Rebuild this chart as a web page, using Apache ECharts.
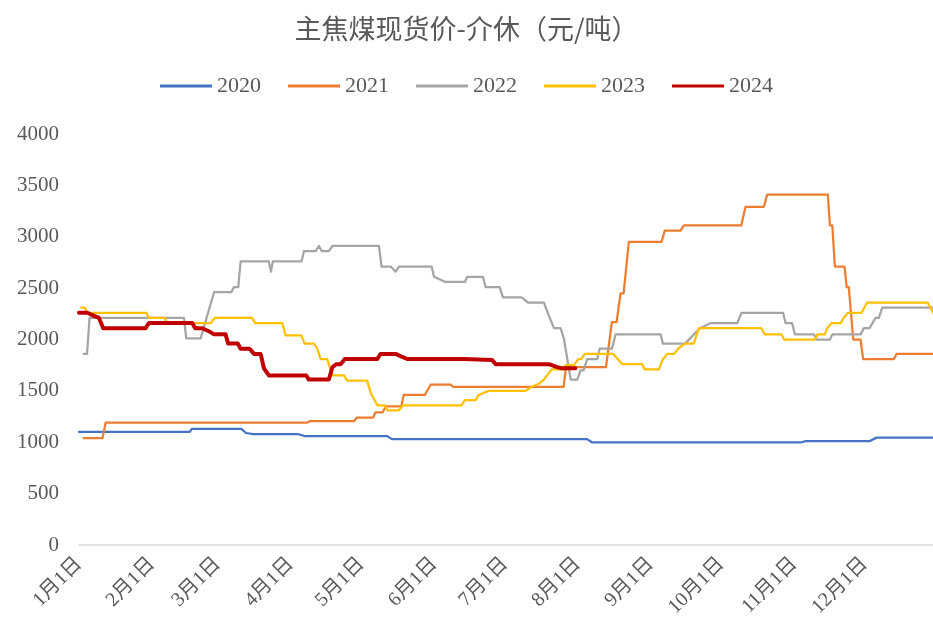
<!DOCTYPE html>
<html>
<head>
<meta charset="utf-8">
<title>主焦煤现货价-介休</title>
<script src="https://cdn.jsdelivr.net/npm/echarts@6.0.0/dist/echarts.min.js"></script>
<style>
  html, body { margin: 0; padding: 0; background: #fff; }
  #main { width: 933px; height: 633px; }
</style>
</head>
<body>
<div id="main"></div>
<script>
// x = day of year (0 = 1月1日), y = 元/吨
const monthStarts = [0, 31, 59, 90, 120, 151, 181, 212, 243, 273, 304, 334];
const monthLabels = ['1月1日', '2月1日', '3月1日', '4月1日', '5月1日', '6月1日',
  '7月1日', '8月1日', '9月1日', '10月1日', '11月1日', '12月1日'];
const yearNames = ['2020', '2021', '2022', '2023', '2024'];
const yearColors = ['#4472C4', '#ED7D31', '#A5A5A5', '#FFC000', '#C00000'];

const data2020 = [[0,1100],[47,1100],[48,1130],[69,1130],[71,1090],[74,1080],[93,1080],[96,1060],
  [131,1060],[133,1030],[216,1030],[218,1000],[307,1000],[309,1010],[336,1010],[339,1045],[363,1045]];

const data2021 = [[2,1040],[10,1040],[11.3,1190],[97,1190],[98,1205],[117,1205],[118,1240],[125,1240],
  [126,1290],[129,1290],[130.5,1350],[137,1350],[138,1460],[147,1460],[149.5,1560],[158,1560],[159,1540],
  [206,1540],[207,1730],[224,1730],[226.5,2170],[228.5,2170],[230.2,2450],[231.5,2450],[233.7,2950],
  [247.6,2950],[249,3060],[255.7,3060],[257.1,3110],[281.5,3110],[283.3,3290],[291.1,3290],[292.5,3410],
  [318.3,3410],[319.2,3110],[320.2,3110],[321.3,2710],[325.4,2710],[326.3,2510],[327.2,2510],[329.1,2000],
  [332.2,2000],[333.3,1810],[346.4,1810],[347.5,1860],[363,1860]];

const data2022 = [[2,1860],[3.4,1860],[4.5,2210],[44.6,2210],[45.6,2010],[51.7,2010],[57.4,2460],[64.7,2460],
  [65.9,2510],[67.7,2510],[68.7,2760],[80.7,2760],[81.6,2660],[82.4,2760],[94.6,2760],[95.6,2860],
  [100.6,2860],[102,2910],[103.2,2860],[106.2,2860],[107.7,2910],[127.5,2910],[128.6,2710],[132.5,2710],
  [134.6,2660],[136,2710],[149.9,2710],[150.9,2610],[155.8,2560],[164,2560],[165,2610],[171.7,2610],
  [172.8,2510],[178.8,2510],[180.2,2410],[188.1,2410],[190.9,2360],[197.6,2360],[199.4,2250],[201.9,2110],
  [204.7,2110],[206.1,2010],[209,1610],[211.8,1610],[213.2,1700],[214.5,1700],[216,1810],[220.3,1810],
  [221.3,1910],[226.5,1910],[228.1,2050],[247.2,2050],[248.2,1960],[257.6,1960],[261.4,2050],[264,2110],
  [268.5,2160],[279.8,2160],[281.6,2260],[299.3,2260],[300.3,2160],[303.1,2160],[304.3,2050],[312.4,2050],
  [313.5,2000],[319.2,2000],[320.2,2050],[332.2,2050],[333.6,2110],[336,2110],[338.6,2210],[340,2210],
  [341.4,2310],[363,2310]];

const data2023 = [[1,2310],[2.5,2310],[3.5,2260],[28.6,2260],[29.7,2210],[36.5,2210],[37.5,2160],[56,2160],
  [57.7,2210],[73.5,2210],[74.9,2160],[86.4,2160],[87.8,2040],[94.5,2040],[95.9,1960],[99.9,1960],
  [101.3,1910],[102.7,1810],[105.5,1810],[107.6,1650],[112.6,1650],[114,1600],[122.5,1600],[124,1480],
  [126.8,1360],[130,1360],[131,1310],[136,1310],[137.7,1360],[162.6,1360],[164,1410],[168.6,1410],
  [169.8,1460],[174.2,1500],[189.8,1500],[192.4,1540],[195.5,1570],[197.6,1610],[199,1650],[200.9,1710],
  [206.1,1710],[206.8,1750],[210.4,1750],[212.2,1810],[213.5,1810],[215,1860],[227,1860],[229,1810],
  [231,1760],[239.4,1760],[240.4,1710],[246.5,1710],[248,1800],[250,1860],[253,1860],[254.6,1910],
  [257.5,1960],[261.3,1960],[263.5,2110],[290,2110],[291.5,2050],[298.6,2050],[299.7,2000],[312.8,2000],
  [314,2050],[317,2050],[318,2110],[319.9,2160],[323.8,2160],[325,2210],[326.9,2260],[332.6,2260],
  [335,2360],[360.7,2360],[363,2260]];

const data2024 = [[0,2260],[3.5,2260],[6.4,2230],[8.5,2210],[9.2,2210],[10.3,2110],[28.3,2110],[29.7,2160],
  [48.2,2160],[49.3,2110],[52.4,2110],[55.2,2080],[57.4,2050],[62.3,2050],[63.4,1960],[67.5,1960],
  [68.7,1910],[72.5,1910],[74.4,1860],[77.2,1860],[78.6,1720],[80.7,1650],[96.6,1650],[97.7,1610],
  [106.2,1610],[107.7,1730],[109.4,1760],[111.2,1760],[113,1810],[126.8,1810],[128.2,1860],[134.6,1860],
  [137.4,1830],[139.5,1810],[163.6,1810],[164.3,1800],[175.6,1800],[177.1,1760],[199.7,1760],[203.3,1730],
  [205.3,1720],[211,1720]];

const allData = [data2020, data2021, data2022, data2023, data2024];

const textColor = '#595959';
const numFont = '"Liberation Serif", "Noto Sans CJK SC", serif';

const chart = echarts.init(document.getElementById('main'));

const series = yearNames.map(function (name, i) {
  return {
    name: name,
    type: 'line',
    data: allData[i],
    showSymbol: false,
    symbol: 'none',
    lineStyle: {
      color: yearColors[i],
      width: name === '2024' ? 4 : 2.25,
      cap: 'round',
      join: 'round'
    },
    itemStyle: { color: yearColors[i] },
    z: 2 + i
  };
});

chart.setOption({
  animation: false,
  title: {
    text: '主焦煤现货价-介休（元/吨）',
    left: 'center',
    top: 10,
    textStyle: {
      color: textColor,
      fontSize: 27,
      fontWeight: 'normal',
      fontFamily: '"Noto Sans CJK SC", sans-serif'
    }
  },
  legend: {
    data: yearNames,
    top: 70,
    left: 'center',
    icon: 'rect',
    itemWidth: 52,
    itemHeight: 3,
    itemGap: 27,
    textStyle: { color: textColor, fontSize: 22, fontFamily: numFont }
  },
  grid: { left: 79, right: 0, top: 134, bottom: 88, containLabel: false },
  xAxis: {
    type: 'value',
    min: 0,
    max: 363,
    axisLine: { show: true, onZero: true, lineStyle: { color: '#D9D9D9', width: 1.5 } },
    axisTick: { show: false },
    splitLine: { show: false },
    axisLabel: {
      customValues: monthStarts,
      rotate: 45,
      margin: 16,
      color: textColor,
      fontSize: 20,
      fontFamily: numFont,
      formatter: function (v) {
        const k = monthStarts.indexOf(v);
        return k >= 0 ? monthLabels[k] : '';
      }
    }
  },
  yAxis: {
    type: 'value',
    min: 0,
    max: 4000,
    interval: 500,
    axisLine: { show: false },
    axisTick: { show: false },
    splitLine: { show: false },
    axisLabel: {
      color: textColor,
      fontSize: 21,
      fontFamily: numFont,
      margin: 20,
      formatter: function (v) { return String(v); }
    }
  },
  series: series
});
</script>
</body>
</html>
